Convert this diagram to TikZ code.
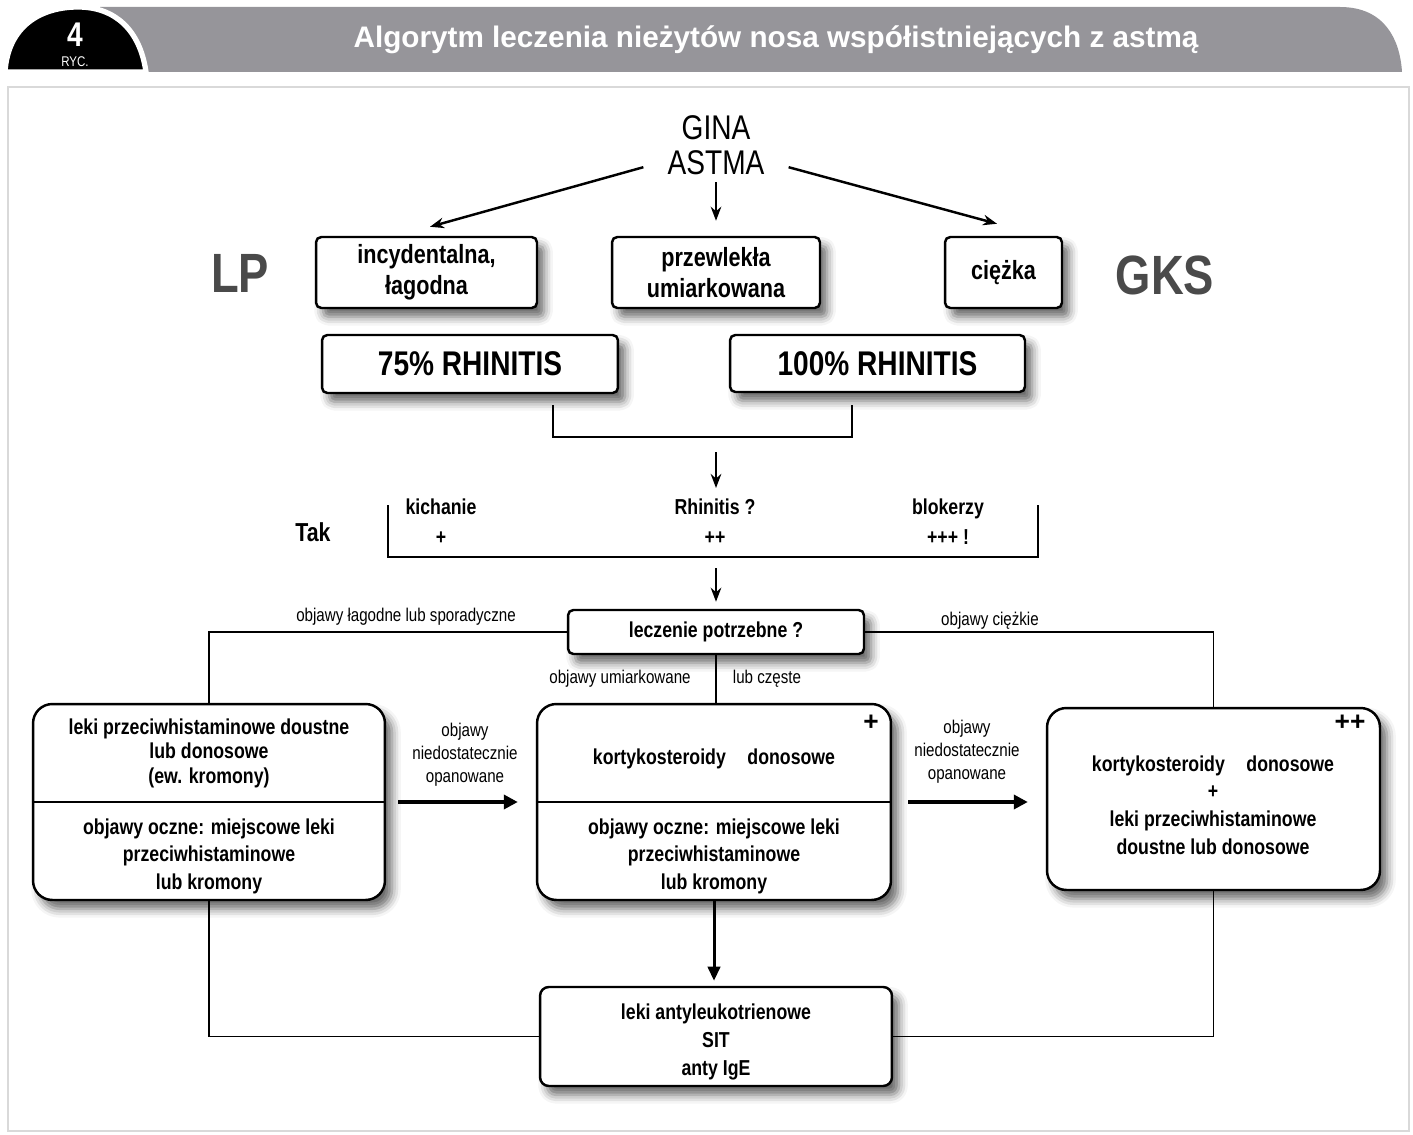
\documentclass[tikz,border=0pt]{standalone}
\usepackage{fontspec}
\setmainfont{Liberation Sans}
\newfontfamily\narrowfont{Liberation Sans}[FakeStretch=0.82]
\usetikzlibrary{arrows.meta}
\usetikzlibrary{shadows.blur}
\definecolor{bargray}{HTML}{96959A}
\definecolor{bigtext}{HTML}{4A4A4A}
\newcommand{\nbf}[2]{\narrowfont\bfseries\fontsize{#1}{#2}\selectfont}

\begin{document}
\begin{tikzpicture}[x=0.02cm, y=-0.02cm,
    box/.style={draw, line width=1.4pt, fill=white, rounded corners=3pt,
      align=center, font=\nbf{15}{17.5},
      blur shadow={shadow xshift=4pt, shadow yshift=-5pt,
        shadow blur radius=5pt, shadow opacity=60}},
    bigbox/.style={box, rounded corners=11pt},
    txt/.style={font=\nbf{12.3}{14}, align=center, inner sep=0pt},
    note/.style={font=\narrowfont\fontsize{10.5}{13}\selectfont, align=center,
      inner sep=0pt},
    link/.style={line width=1.1pt},
    arr/.style={line width=1.4pt, -{Stealth[length=8pt, width=6pt]}},
    fatarr/.style={line width=2.3pt, -{Triangle[length=8pt, width=8pt]}}]
    \useasboundingbox (0,0) rectangle (1413,1135);

    \fill[bargray] (100,7) -- (1340,7) .. controls (1385,7) and (1400,40)
      .. (1402,72) -- (100,72) -- cycle;
    \filldraw[fill=black, draw=white, line width=3pt] (5,72) .. controls
      (8,25) and (42,7) .. (78,7) .. controls (115,7) and (140,30)
      .. (146,72) -- cycle;
    \node[white, font=\nbf{19.5}{19.5}] (fignum) at (75,35) {4};
    \node[white, font=\narrowfont\fontsize{8}{8}\selectfont] (ryc) at (75,62) {RYC.};
    \node[white, font=\bfseries\fontsize{16.9}{18}\selectfont] (title) at (776,40)
      {Algorytm leczenia nieżytów nosa współistniejących z astmą};
    \draw[black!15, line width=1.5pt] (8,87) rectangle (1409,1131);

    \node[font=\narrowfont\fontsize{19.5}{20}\selectfont, align=center,
      inner xsep=13.6pt, inner ysep=4pt] (gina) at (716,145) {GINA\\ASTMA};

    \node[box, minimum width=4.42cm, minimum height=1.42cm] (mild)
      at (426.5,272.5) {incydentalna,\\łagodna};
    \node[box, minimum width=4.16cm, minimum height=1.42cm] (chronic)
      at (716,272.5) {przewlekła\\umiarkowana};
    \node[box, minimum width=2.34cm, minimum height=1.42cm] (severe)
      at (1003.5,272.5) {ciężka};
    \node[font=\nbf{31.5}{32}, text=bigtext] (lp) at (240,273) {LP};
    \node[font=\nbf{31.5}{32}, text=bigtext] (gks) at (1165,275) {GKS};

    \node[box, font=\nbf{19.5}{20}, minimum width=5.92cm, minimum height=1.16cm]
      (r75) at (470,364) {75\% RHINITIS};
    \node[box, font=\nbf{19.5}{20}, minimum width=5.9cm, minimum height=1.14cm]
      (r100) at (877.5,363.5) {100\% RHINITIS};

    \coordinate (jl) at (553,405);
    \coordinate (jr) at (852,405);
    \coordinate (jm) at (716,452);
    \coordinate (jt) at (716,488);
    \draw[link] (jl) -- ++(0,32) -| (jr);
    \draw[arr] (jm) -- (jt);

    \node[font=\nbf{14.8}{16}] (tak) at (313,532) {Tak};
    \foreach \x/\w/\s [count=\i] in {441/kichanie/+, 715/Rhinitis ?/++,
      948/blokerzy/+++ !}
    {
      \node[txt, anchor=base] (sym\i) at (\x,514) {\w};
      \node[txt, anchor=base] (lvl\i) at (\x,544) {\s};
    }
    \coordinate (tl) at (388,505);
    \coordinate (tr) at (1038,505);
    \coordinate (tm) at (716,568);
    \draw[link] (tl) -- ++(0,52) -| (tr);

    \node[box, font=\nbf{12.3}{14}, minimum width=5.92cm, minimum height=0.88cm]
      (need) at (716,632) {leczenie potrzebne ?};
    \draw[arr] (tm) -- ([yshift=0.14cm]need.north);

    \node[bigbox, minimum width=7.04cm, minimum height=3.92cm] (b1) at (209,802) {};
    \node[bigbox, minimum width=7.08cm, minimum height=3.92cm] (b2) at (714,802) {};
    \node[bigbox, minimum width=6.66cm, minimum height=3.64cm] (b3)
      at (1213.5,799) {};
    \draw[line width=1.4pt] (b1.west) -- (b1.east);
    \draw[line width=1.4pt] (b2.west) -- (b2.east);

    \node[txt, font=\nbf{12.3}{13.9}] (b1top) at (209,753)
      {leki przeciwhistaminowe doustne\\lub donosowe\\(ew. kromony)};
    \node[txt, font=\nbf{12.3}{15.6}] (b1low) at (209,856)
      {objawy oczne: miejscowe leki\\przeciwhistaminowe\\lub kromony};
    \node[txt] (b2top) at (714,759) {kortykosteroidy\quad donosowe};
    \node[txt, font=\nbf{12.3}{15.6}] (b2low) at (714,856)
      {objawy oczne: miejscowe leki\\przeciwhistaminowe\\lub kromony};
    \node[txt, font=\nbf{12.3}{15.8}] (b3txt) at (1213,805)
      {kortykosteroidy\quad donosowe\\+\\leki
      przeciwhistaminowe\\doustne lub donosowe};
    \node[font=\bfseries\fontsize{15}{15}\selectfont, inner sep=0pt] (plus)
      at (871,723) {+};
    \node[font=\bfseries\fontsize{15}{15}\selectfont, inner sep=0pt] (plusplus)
      at (1350,723) {++};

    \node[box, rounded corners=5pt, minimum width=7.04cm,
      minimum height=1.98cm] (bot) at (716,1036.5) {};
    \node[txt, font=\nbf{12.3}{15.9}] (bottxt) at (716,1042)
      {leki antyleukotrienowe\\SIT\\anty IgE};

    \draw[arr] (gina.197) -- ([xshift=0.07cm, yshift=0.18cm]mild.north);
    \draw[arr] (gina.south) -- ([yshift=0.3cm]chronic.north);
    \draw[arr] (gina.-17.7) -- ([xshift=-0.13cm, yshift=0.24cm]severe.north);

    \draw[link] (need.west) -| (b1.north);
    \draw[link] (need.east) -| (b3.north);
    \draw[link] (need.south) -- (need.south |- b2.north);
    \node[note] (mildlab) at (406,617) {objawy łagodne lub sporadyczne};
    \node[note] (sevlab) at (990,621) {objawy ciężkie};
    \node[note] (modlab) at (620,679) {objawy umiarkowane};
    \node[note] (freqlab) at (767,679) {lub częste};

    \draw[fatarr, shorten <=0.24cm, shorten >=0.36cm] (b1.east) -- (b2.west);
    \draw[fatarr, shorten <=0.32cm, shorten >=0.36cm] (b2.east)
      -- (b2.east -| b3.west);
    \node[note] (fail1) at (465,755) {objawy\\niedostatecznie\\opanowane};
    \node[note] (fail2) at (967,752) {objawy\\niedostatecznie\\opanowane};

    \draw[line width=1.7pt, -{Triangle[length=8pt, width=7pt]},
      shorten >=0.1cm] (b2.south) -- (b2.south |- bot.north);
    \draw[link] (b1.south) |- (bot.west);
    \draw[link] (b3.south) |- (bot.east);
\end{tikzpicture}
\end{document}
